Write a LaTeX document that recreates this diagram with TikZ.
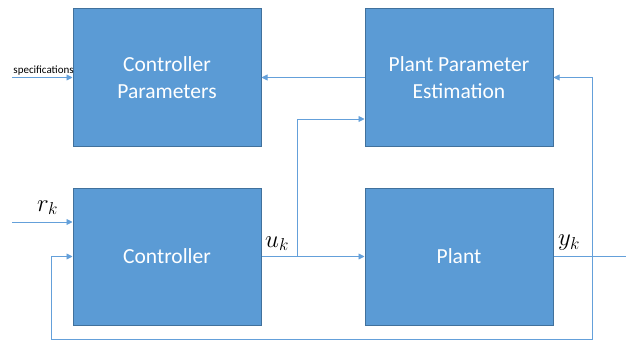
\documentclass[tikz,border=0pt]{standalone}
\usepackage{fontspec}
\setmainfont{Carlito}
\usepackage{tikz}
\usetikzlibrary{
  arrows.meta,
  calc,
  positioning
}
\definecolor{boxblue}{RGB}{91,155,213}
\definecolor{edgeblue}{RGB}{65,113,156}
\definecolor{wireblue}{RGB}{100,160,218}
\tikzset{
  block/.style={draw=edgeblue,line width=1pt,fill=boxblue,
    minimum width=188pt,minimum height=137pt,align=center,
    text=white,font=\fontsize{21.5}{27}\selectfont},
  wire/.style={-{Triangle[length=6pt,width=6pt]},line width=0.9pt,draw=wireblue},
  line/.style={line width=0.9pt,draw=wireblue},
  sig/.style={font=\fontsize{24}{24}\selectfont,inner sep=0pt},
  lab/.style={font=\fontsize{11}{12}\selectfont,inner sep=1pt}
}

\begin{document}
\begin{tikzpicture}[x=1pt,y=-1pt,node distance=41pt and 103pt]
  \useasboundingbox (0,0) rectangle (626,342);
  \node[block] (cpar) at (167,77.5) {Controller\\Parameters};
  \node[block,right=of cpar] (ppe) {Plant Parameter\\Estimation};
  \node[block,below=of cpar] (ctrl) {Controller};
  \node[block,below=of ppe] (plant) {Plant};
  % inputs
  \coordinate (spec) at (12,77.5);
  \coordinate (rin) at (12,222);
  \draw[wire] (spec) -- (spec -| cpar.west)
    node[lab,pos=0,anchor=south west,yshift=1pt] {specifications};
  \draw[wire] (rin) -- (rin -| ctrl.west);
  \node[sig,anchor=south west] (rlab) at (37,215) {$r_k$};
  % forward path
  \coordinate (ubr) at (ctrl.east -| 297,0);
  \draw[wire] (ctrl.east) -- (plant.west);
  \node[sig,anchor=south west] (ulab) at (265,251) {$u_k$};
  \draw[wire] (ubr) |- ([yshift=-41.5pt]ppe.west);
  \draw[wire] (ppe.west) -- (cpar.east);
  % output and feedback
  \coordinate (yout) at (plant.east -| 626,0);
  \coordinate (ybr) at (plant.east -| 592,0);
  \draw[line] (plant.east) -- (yout);
  \node[sig,anchor=south west] (ylab) at (558,251) {$y_k$};
  \draw[wire] (ybr) |- (ppe.east);
  \draw[wire] (ybr) |- (51,339) |- (ctrl.west);
\end{tikzpicture}
\end{document}
